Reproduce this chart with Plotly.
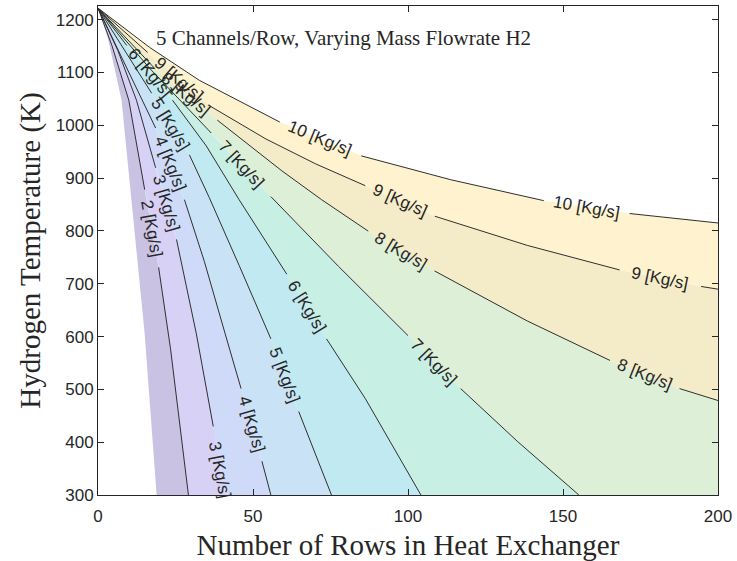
import plotly.graph_objects as go

# Axis limits
N_MAX = 200
T_MIN, T_MAX = 300, 1226

flow_rates = [2, 3, 4, 5, 6, 7, 8, 9, 10]

# Outer edge of the computed domain (lowest flowrate), no contour line drawn on it
edge_rows = [0, 3.21, 7.60, 15.06, 18.91]
edge_temps = [1222, 1164.4, 1047.6, 605.1, 300]

# Contour lines: rows vs hydrogen temperature; None marks where a label interrupts the line
rows_2 = [0, 4.49, 9.94, 15.06, None, 19.55, 23.40, 29.17]
temps_2 = [1222, 1151.2, 1047.6, 878.2, None, 731.3, 576.8, 300]

rows_3 = [0, 6.41, 12.40, 18.59, None, 25.32, 31.73, 37.18, None, 41.03]
temps_3 = [1222, 1141.8, 1047.6, 919.6, None, 784.0, 605.1, 429.9, None, 300]

rows_4 = [0, 14.42, 18.59, None, 27.88, 34.29, 41.03, 46.15, None, 52.88, 55.77]
temps_4 = [1222, 1047.6, 994.9, None, 859.3, 742.6, 605.1, 501.5, None, 364.0, 300]

rows_5 = [0, 17.31, None, 29.49, 35.90, 45.51, 55.77, None, 64.74, 75.32]
temps_5 = [1222, 1060.8, None, 944.1, 863.1, 735.0, 595.7, None, 458.2, 300]

rows_6 = [0, 9.29, None, 24.04, 34.94, 45.51, 60.90, None, 73.72, 86.22, 104.17]
temps_6 = [1222, 1151.2, None, 1047.6, 961.0, 859.3, 718.1, None, 595.7, 482.7, 300]

rows_7 = [0, 16.67, 36.54, None, 55.77, 77.56, 100.0, None, 116.99, 135.26, 155.13]
temps_7 = [1222, 1107.9, 985.5, None, 865.0, 733.1, 601.9, None, 501.5, 401.7, 300]

rows_8 = [0, 18.27, None, 38.46, 59.29, 72.12, 87.18, None, 108.56, 138.46, 165.16, None, 187.6, 200]
temps_8 = [1222, 1107.9, None, 1010.0, 913.9, 859.3, 799.6, None, 724.3, 629.6, 554.8, None, 501.5, 478.9]

rows_9 = [0, 16.03, None, 36.22, 54.17, 70.19, 86.22, None, 108.65, 138.46, 168.27, None, 194.55, 200]
temps_9 = [1222, 1138.0, None, 1036.3, 974.2, 927.1, 885.7, None, 827.9, 772.7, 726.2, None, 694.9, 689.8]

rows_10 = [0, 16.67, 32.69, 45.51, 58.65, None, 84.94, 96.79, 113.8, 143.8, None, 171.5, 200]
temps_10 = [1222, 1147.5, 1085.3, 1045.8, 1006.2, None, 942.2, 923.4, 897.0, 857.4, None, 833.0, 815.1]

curves = {
    2: (rows_2, temps_2), 3: (rows_3, temps_3), 4: (rows_4, temps_4),
    5: (rows_5, temps_5), 6: (rows_6, temps_6), 7: (rows_7, temps_7),
    8: (rows_8, temps_8), 9: (rows_9, temps_9), 10: (rows_10, temps_10),
}

# Inline contour labels: flowrate, rows, temperature
label_flow = [10, 10, 9, 9, 9, 8, 8, 8, 7, 7, 6, 6, 5, 5, 4, 4, 3, 3, 2]
label_rows = [71.6, 157.7, 26.1, 97.4, 181.4, 28.4, 97.9, 176.4, 46.2, 108.5,
              16.7, 67.3, 23.4, 60.3, 23.2, 49.5, 22.0, 39.2, 17.3]
label_temps = [974.2, 845.2, 1087.0, 856.8, 710.6, 1059.0, 762.0, 528.2, 925.3, 551.7,
               1099.4, 656.9, 1002.5, 527.0, 927.1, 432.8, 851.8, 348.0, 804.8]
label_angles = [22.5, 10, 40.6, 24, 11.5, 39.5, 31, 22, 46.8, 45.2,
                50, 58.4, 58.5, 69, 68, 74, 73.7, 79, 79.8]

# Band fill colours, lowest flowrate band first
band_colors = ["#c9c2e3", "#d7d1f6", "#cfd9f8", "#c9e2f6", "#c1e9f2",
               "#c8efe4", "#ddf0d7", "#f4ebc8", "#fef3ce"]


def solid(rows, temps):
    return [(r, t) for r, t in zip(rows, temps) if r is not None]


boundaries = [solid(edge_rows, edge_temps)] + [solid(*curves[m]) for m in flow_rates]

fig = go.Figure()

# Filled bands between neighbouring contours
for k in range(len(boundaries) - 1):
    lower, upper = boundaries[k], boundaries[k + 1]
    pts = list(lower)
    if lower[-1][1] == T_MIN and upper[-1][1] != T_MIN:
        pts.append((N_MAX, T_MIN))
    pts += upper[::-1]
    fig.add_trace(go.Scatter(
        x=[p[0] for p in pts], y=[p[1] for p in pts],
        mode="lines", fill="toself", fillcolor=band_colors[k],
        line=dict(width=0), hoverinfo="skip", showlegend=False,
    ))

# Contour lines
for m in flow_rates:
    r, t = curves[m]
    fig.add_trace(go.Scatter(
        x=r, y=t, mode="lines", connectgaps=False,
        line=dict(color="#2e2e2e", width=1), hoverinfo="skip", showlegend=False,
    ))

annotations = []
for m, n, t, a in zip(label_flow, label_rows, label_temps, label_angles):
    annotations.append(dict(
        x=n, y=t, xref="x", yref="y", text=f"{m} [Kg/s]", showarrow=False,
        textangle=a, font=dict(family="Liberation Sans, Arial", size=17, color="#262626"),
    ))

annotations.append(dict(
    x=0.396, y=0.935, xref="paper", yref="paper", xanchor="center", yanchor="middle",
    showarrow=False, text="5 Channels/Row, Varying Mass Flowrate H2",
    font=dict(family="Liberation Serif, Times New Roman", size=21, color="#262626"),
))

axis_common = dict(
    showgrid=False, zeroline=False, showline=True, linecolor="#262626", linewidth=1,
    mirror="ticks", ticks="inside", ticklen=6, tickcolor="#262626",
    tickfont=dict(family="Liberation Sans, Arial", size=17, color="#262626"),
)

fig.update_layout(
    width=737, height=561,
    margin=dict(l=98, r=15, t=5, b=64),
    paper_bgcolor="white", plot_bgcolor="white",
    showlegend=False,
    annotations=annotations,
    xaxis=dict(
        range=[0, N_MAX], tickvals=[0, 50, 100, 150, 200], ticklabelstandoff=6,
        title=dict(text="Number of Rows in Heat Exchanger", standoff=9,
                   font=dict(family="Liberation Serif, Times New Roman", size=29, color="#262626")),
        **axis_common,
    ),
    yaxis=dict(
        range=[T_MIN, T_MAX], tickvals=list(range(300, 1201, 100)),
        title=dict(text="Hydrogen Temperature (K)", standoff=6,
                   font=dict(family="Liberation Serif, Times New Roman", size=29, color="#262626")),
        **axis_common,
    ),
)

fig.write_html("out.html")
